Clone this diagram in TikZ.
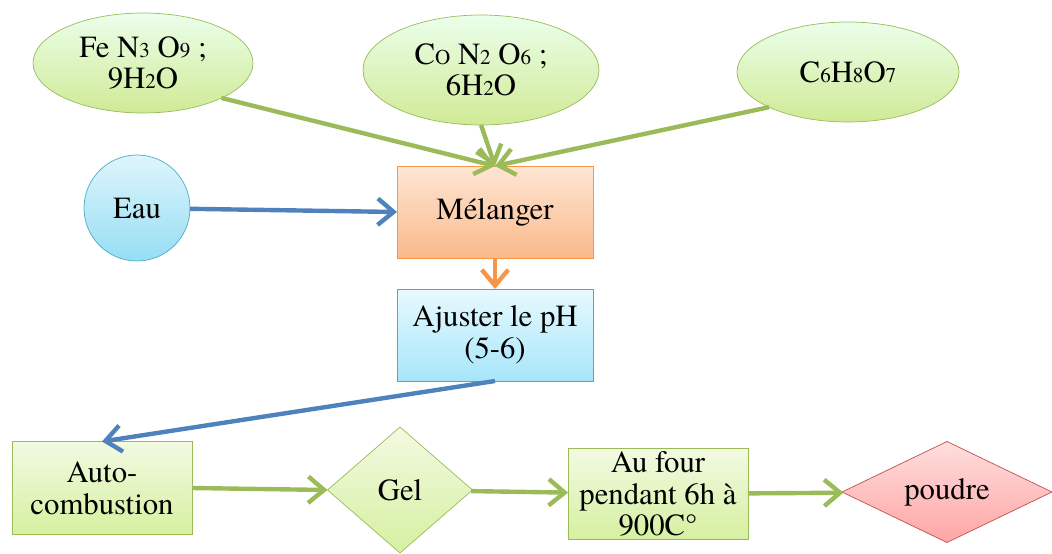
\documentclass[tikz,border=0pt]{standalone}
\usepackage{fontspec}
\setmainfont{TeX Gyre Termes}
\usetikzlibrary{shapes.geometric,arrows.meta}
\newcommand{\sm}[1]{{\fontsize{12}{13}\selectfont #1}}
\definecolor{grn}{RGB}{155,187,89}
\definecolor{blu}{RGB}{79,129,189}
\definecolor{org}{RGB}{247,150,70}
\definecolor{cya}{RGB}{75,172,198}
\definecolor{rd}{RGB}{192,80,77}
\tikzset{
	every node/.style={font=\rmfamily\fontsize{17.5}{18}\selectfont, align=center, inner sep=0pt, outer sep=0pt},
	reactif/.style={ellipse, draw=grn, top color=green!8!white, bottom color={rgb,255:red,208;green,234;blue,150}},
	boite/.style={rectangle, draw=grn, top color={rgb,255:red,242;green,250;blue,226}, bottom color={rgb,255:red,214;green,240;blue,160}, minimum width=3.6cm},
	losange/.style={diamond, draw=grn, top color={rgb,255:red,242;green,250;blue,226}, bottom color={rgb,255:red,214;green,240;blue,160}},
	fl/.style={line width=2.5pt, -{Straight Barb[length=9pt,width=15pt,line width=2.5pt]}},
}
\begin{document}
\begin{tikzpicture}[x=0.02cm,y=-0.02cm]
					\useasboundingbox (0,0) rectangle (1052,554);
					%REACTIFS
					\node[reactif, minimum width=4.4cm, minimum height=2cm] (fe) at (143,63) {Fe N\sm{3} O\sm{9} ;\\ 9H\sm{2}O};
					\node[reactif, minimum width=4.72cm, minimum height=2.2cm] (co) at (481,70) {C\sm{O} N\sm{2} O\sm{6} ;\\ 6H\sm{2}O};
					\node[reactif, minimum width=4.44cm, minimum height=2cm] (acide) at (848,72) {C\sm{6}H\sm{8}O\sm{7}};
					\node[circle, draw=cya, top color={rgb,255:red,222;green,245;blue,252}, bottom color={rgb,255:red,150;green,222;blue,244}, minimum size=2.12cm] (eau) at (137,208) {Eau};
					%ETAPES
					\node[rectangle, draw=org, top color={rgb,255:red,253;green,230;blue,212}, bottom color={rgb,255:red,251;green,185;blue,138}, minimum width=3.92cm, minimum height=1.84cm] (mel) at (495,212) {Mélanger};
					\node[rectangle, draw=cya, top color={rgb,255:red,232;green,249;blue,254}, bottom color={rgb,255:red,166;green,230;blue,250}, minimum width=3.92cm, minimum height=1.84cm] (ph) at (495,335) {Ajuster le pH\\ (5-6)};
					\node[boite, minimum height=1.86cm] (auto) at (102,488) {Auto-\\ combustion};
					\node[losange, aspect=1.15, minimum width=2.9cm, minimum height=2.52cm] (gel) at (400,490) {Gel};
					\node[boite, minimum height=1.82cm] (four) at (658,494) {Au four\\ pendant 6h à\\ 900C°};
					\node[diamond, aspect=2.1, draw=rd, top color={rgb,255:red,255;green,222;blue,222}, bottom color={rgb,255:red,255;green,165;blue,165}, minimum width=4.2cm, minimum height=2.02cm] (poudre) at (947,492) {poudre};
					%FLECHES
					\draw[fl, grn] (fe.-24) -- (mel.north);
					\draw[fl, grn] (co.south) -- (mel.north);
					\draw[fl, grn] (acide.204) -- (mel.north);
					\draw[fl, blu] (eau) -- (mel.west);
					\draw[fl, org] (mel.south) -- (ph.north);
					\draw[fl, blu] (ph.south) -- (auto.north);
					\draw[fl, grn] (auto.east) -- (gel.west);
					\draw[fl, grn] (gel) -- (four);
					\draw[fl, grn] (four) -- (poudre);
	  \end{tikzpicture}
\end{document}
